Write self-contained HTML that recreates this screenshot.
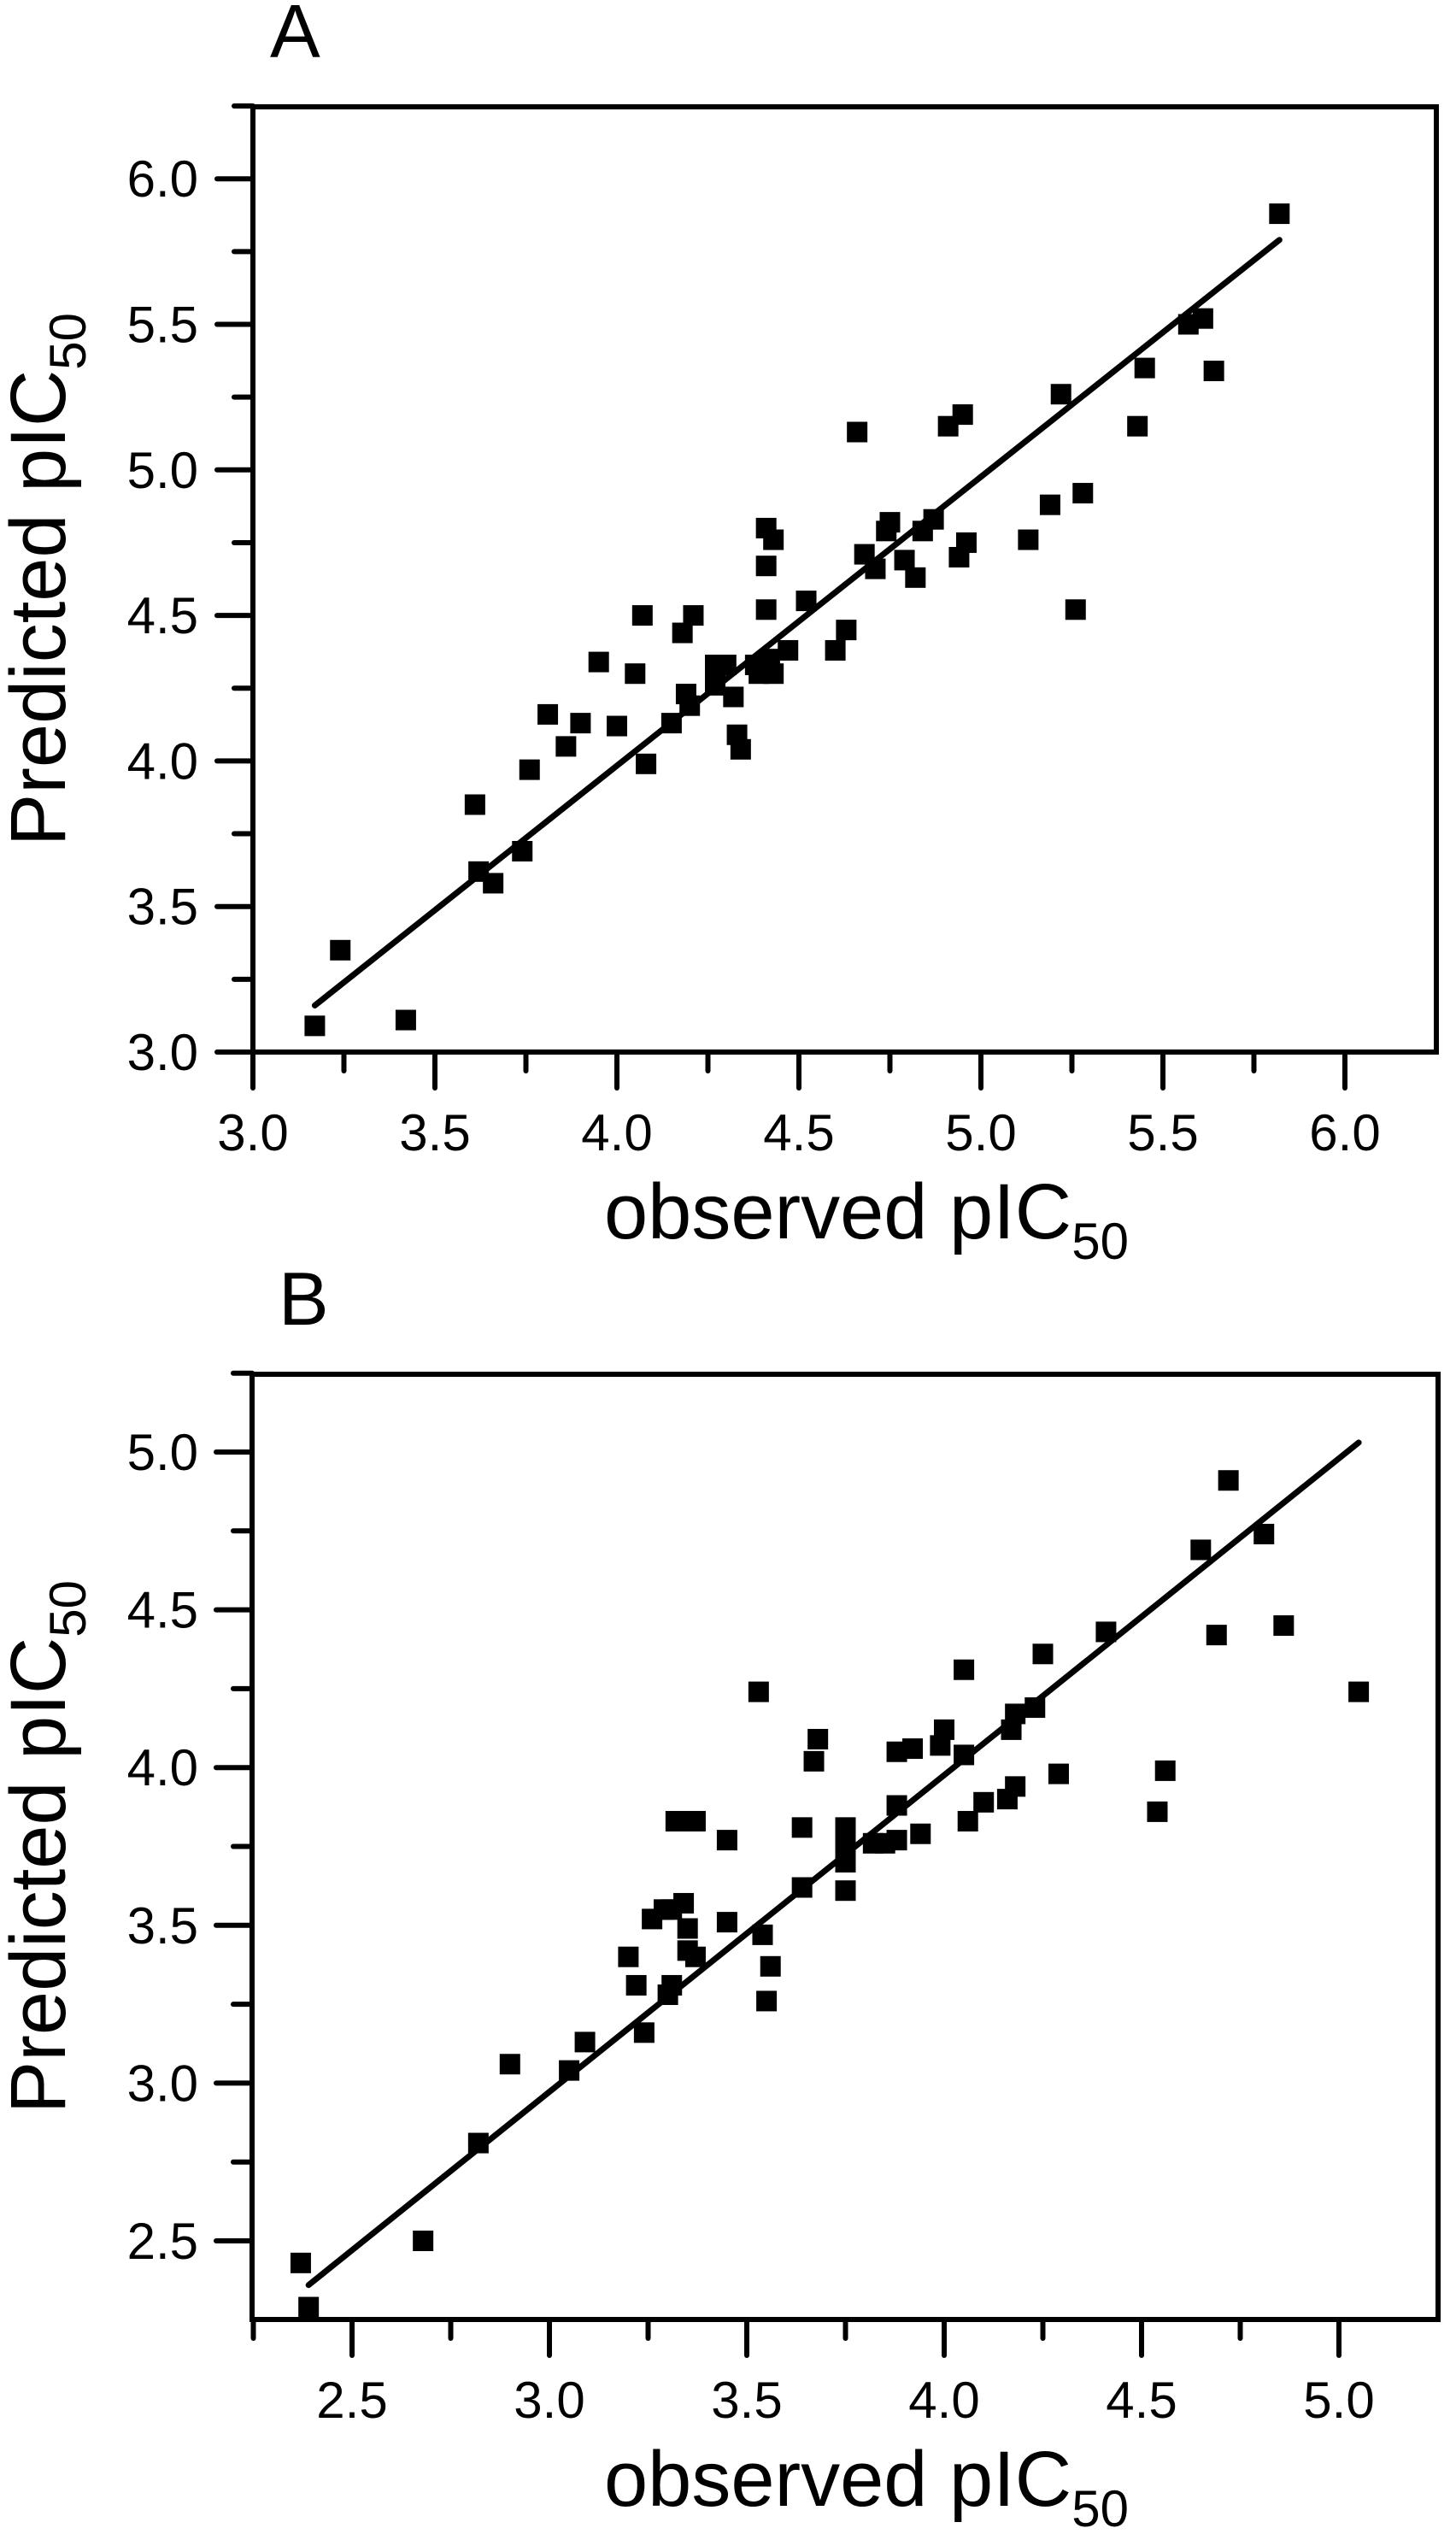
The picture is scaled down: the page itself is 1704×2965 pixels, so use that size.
<!DOCTYPE html>
<html>
<head>
<meta charset="utf-8">
<style>
html,body{margin:0;padding:0;background:#fff;}
svg{display:block;}
text{font-family:"Liberation Sans",sans-serif;fill:#000;}
</style>
</head>
<body>
<svg id="fig" width="1704" height="2965" viewBox="0 0 1704 2965" xmlns="http://www.w3.org/2000/svg"></svg>
<script>
// Panel A data
const obsA = [3.17,3.24,3.42,3.61,3.62,3.66,3.74,3.76,3.81,3.86,3.90,3.95,4.00,4.05,4.07,4.08,4.15,4.18,4.19,4.21,4.20,4.27,4.27,4.30,4.32,4.33,4.34,4.38,4.39,4.41,4.41,4.41,4.42,4.43,4.43,4.47,4.52,4.60,4.63,4.66,4.68,4.71,4.74,4.75,4.79,4.82,4.84,4.87,4.91,4.94,4.95,4.96,5.13,5.19,5.22,5.26,5.28,5.43,5.45,5.57,5.61,5.64,5.82];
const predA = [3.09,3.35,3.11,3.85,3.62,3.58,3.69,3.97,4.16,4.05,4.13,4.34,4.12,4.30,4.50,3.99,4.13,4.44,4.23,4.50,4.19,4.33,4.26,4.33,4.22,4.09,4.04,4.33,4.30,4.80,4.67,4.52,4.35,4.30,4.76,4.38,4.55,4.38,4.45,5.13,4.71,4.66,4.79,4.82,4.69,4.63,4.79,4.83,5.15,4.70,5.19,4.75,4.76,4.88,5.26,4.52,4.92,5.15,5.35,5.50,5.52,5.34,5.88];
const fitA = [[3.17,3.16],[5.82,5.79]];
const xTicksA = ["3.0","3.5","4.0","4.5","5.0","5.5","6.0"];
const yTicksA = ["3.0","3.5","4.0","4.5","5.0","5.5","6.0"];
// Panel B data
const obsB = [2.37,2.39,2.68,2.82,2.90,3.05,3.09,3.20,3.22,3.24,3.26,3.29,3.30,3.31,3.31,3.32,3.34,3.35,3.35,3.37,3.37,3.45,3.45,3.53,3.54,3.55,3.56,3.64,3.64,3.67,3.68,3.75,3.75,3.75,3.75,3.82,3.85,3.88,3.88,3.88,3.92,3.94,3.99,4.00,4.05,4.05,4.06,4.10,4.16,4.17,4.18,4.18,4.23,4.25,4.29,4.41,4.54,4.56,4.65,4.69,4.72,4.81,4.86,5.05];
const predB = [2.43,2.29,2.50,2.81,3.06,3.04,3.13,3.40,3.31,3.16,3.52,3.55,3.28,3.31,3.55,3.83,3.57,3.49,3.42,3.40,3.83,3.77,3.51,4.24,3.47,3.26,3.37,3.81,3.62,4.02,4.09,3.81,3.76,3.70,3.61,3.76,3.76,4.05,3.88,3.77,4.06,3.79,4.07,4.12,4.31,4.04,3.83,3.89,3.90,4.12,4.17,3.94,4.19,4.36,3.98,4.43,3.86,3.99,4.69,4.42,4.91,4.74,4.45,4.24];
const fitB = [[2.39,2.36],[5.05,5.03]];
const xTicksB = ["2.5","3.0","3.5","4.0","4.5","5.0"];
const yTicksB = ["2.5","3.0","3.5","4.0","4.5","5.0"];

const NS = "http://www.w3.org/2000/svg";
const svg = document.getElementById('fig');
function mk(tag, attrs, parent){
  const e = document.createElementNS(NS, tag);
  for (const k in attrs) e.setAttribute(k, attrs[k]);
  (parent||svg).appendChild(e);
  return e;
}

function panel(cfg){
  const g = mk('g', {});
  
  
  const X = v => cfg.x0 + (v - cfg.xv0) * cfg.xs;
  const Y = v => cfg.y0 - (v - cfg.yv0) * cfg.ys;
  const fr = mk('rect', {x:cfg.L, y:cfg.T, width:cfg.R-cfg.L, height:cfg.B-cfg.T, fill:'none', stroke:'#000', 'stroke-width':6}, g);
  
  
  cfg.xMinor.forEach(v => {
    const t = mk('line', {x1:X(v), x2:X(v), y1:cfg.B, y2:cfg.B+22, stroke:'#000','stroke-width':6,'stroke-linecap':'round'}, g);
    
    
  });
  cfg.xTicks.forEach(s => {
    const v = parseFloat(s);
    const t = mk('line', {x1:X(v), x2:X(v), y1:cfg.B, y2:cfg.B+42, stroke:'#000','stroke-width':6,'stroke-linecap':'round'}, g);
    
    
    const tx = mk('text', {x:X(v), y:cfg.B+115, 'font-size':60, 'text-anchor':'middle'}, g);
    tx.textContent = s;
    
    
  });
  cfg.yMinor.forEach(v => {
    const t = mk('line', {x1:cfg.L-22, x2:cfg.L, y1:Y(v), y2:Y(v), stroke:'#000','stroke-width':6,'stroke-linecap':'round'}, g);
    
    
  });
  cfg.yTicks.forEach(s => {
    const v = parseFloat(s);
    const t = mk('line', {x1:cfg.L-42, x2:cfg.L, y1:Y(v), y2:Y(v), stroke:'#000','stroke-width':6,'stroke-linecap':'round'}, g);
    
    
    const tx = mk('text', {x:232, y:Y(v)+21, 'font-size':60, 'text-anchor':'end'}, g);
    tx.textContent = s;
    
    
  });
  const ln = mk('line', {x1:X(cfg.fit[0][0]), y1:Y(cfg.fit[0][1]), x2:X(cfg.fit[1][0]), y2:Y(cfg.fit[1][1]), stroke:'#000','stroke-width':7,'stroke-linecap':'round'}, g);
  
  
  cfg.obs.forEach((o,i) => {
    const p = mk('rect', {x:X(o)-12, y:Y(cfg.pred[i])-12, width:24, height:24, fill:'#000'}, g);
    
    
  });
  const lt = mk('text', {x:cfg.letterX, y:cfg.T-58, 'font-size':88}, g);
  lt.textContent = cfg.letter;
  
  
  const xt = mk('text', {x:707, y:cfg.B+218, 'font-size':92}, g);
  
  
  const a1 = mk('tspan', {}, xt); a1.textContent = 'observed pIC';
  const a2 = mk('tspan', {'font-size':60, dy:24}, xt); a2.textContent = '50';
  const cy = (cfg.T + cfg.B)/2;
  const yt = mk('text', {x:0, y:0, 'font-size':92, 'text-anchor':'middle', transform:'translate(76,'+cy+') rotate(-90)'}, g);
  
  
  const b1 = mk('tspan', {}, yt); b1.textContent = 'Predicted pIC';
  const b2 = mk('tspan', {'font-size':60, dy:24}, yt); b2.textContent = '50';
}

panel({name:'panel-a', letter:'A', letterX:316,
  L:296, R:1681, T:125, B:1231,
  x0:296, xv0:3.0, xs:426, y0:1231, yv0:3.0, ys:340.6,
  xTicks:xTicksA, yTicks:yTicksA,
  xMinor:[3.25,3.75,4.25,4.75,5.25,5.75],
  yMinor:[3.25,3.75,4.25,4.75,5.25,5.75,6.25],
  obs:obsA, pred:predA, fit:fitA});

panel({name:'panel-b', letter:'B', letterX:326,
  L:295, R:1683, T:1608, B:2714,
  x0:412, xv0:2.5, xs:462, y0:2622, yv0:2.5, ys:369.2,
  xTicks:xTicksB, yTicks:yTicksB,
  xMinor:[2.25,2.75,3.25,3.75,4.25,4.75],
  yMinor:[2.75,3.25,3.75,4.25,4.75,5.25],
  obs:obsB, pred:predB, fit:fitB});
</script>
</body>
</html>
